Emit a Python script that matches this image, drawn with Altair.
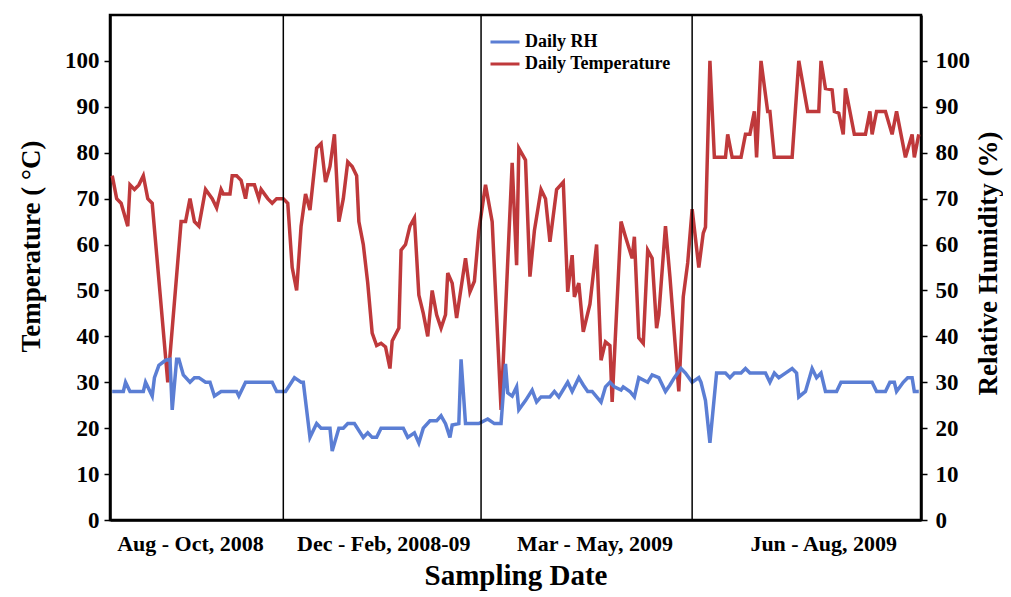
import altair as alt
import pandas as pd

# ---- data ----
temp_day = [1, 3, 5, 8, 9, 11, 13, 15, 17, 19, 26, 32, 34, 36, 38, 40, 43, 46, 48, 50,
            51, 54, 55, 57, 59, 61, 62, 65, 67, 68, 71, 73, 75, 78, 80, 82, 84, 86, 88, 90,
            91, 93, 95, 97, 99, 101, 103, 105, 107, 109, 111, 112, 114, 116, 118, 120, 122, 124, 126, 127,
            130, 131, 133, 135, 137, 139, 141, 143, 145, 147, 149, 151, 152, 154, 156, 160, 162, 164, 166, 169,
            172, 176, 181, 183, 184, 187, 189, 191, 194, 196, 198, 201, 204, 206, 208, 209, 211, 213, 216, 219,
            221, 223, 225, 226, 230, 232, 235, 236, 238, 240, 242, 244, 246, 247, 250, 252, 256, 258, 260, 262,
            265, 267, 268, 270, 272, 277, 278, 280, 284, 286, 288, 290, 291, 293, 296, 297, 299, 307, 310, 314,
            319, 320, 322, 325, 326, 328, 330, 331, 335, 340, 342, 343, 345, 349, 352, 354, 358, 361, 362, 364]
temp_val = [75, 70, 69, 64, 73, 72, 73, 75, 70, 69, 30, 65, 65, 70, 65, 64, 72, 70, 68, 72,
            71, 71, 75, 75, 74, 70, 73, 73, 70, 72, 70, 69, 70, 70, 69, 55, 50, 64, 71, 67.5,
            72, 81, 82, 73.6, 77, 84, 65, 70, 78, 77, 75, 65, 60, 51.6, 40.7, 38, 38.5, 37.7, 33, 39,
            41.8, 58.8, 60, 64, 65.8, 49, 45, 40, 50, 44.7, 41.8, 44.7, 53.8, 51.6, 44, 57, 49.7, 52, 63, 73,
            65, 24, 77.8, 55.5, 81, 78.4, 53, 63, 72, 70, 60.6, 72, 73.6, 49.7, 57.7, 48.6, 51.6, 41, 47, 60,
            34.8, 38.8, 38, 25.7, 65, 61.7, 57, 61.7, 39.7, 38.5, 58.8, 57, 41.8, 44.7, 64, 53, 28, 48.6, 56, 67.7,
            55, 62.5, 63.8, 100, 79, 79, 84, 79, 79, 84, 84, 89, 79, 100, 89, 89, 79, 79, 100, 89,
            89, 100, 94, 93.7, 89, 88.6, 84, 94, 84, 84, 89, 84, 89, 89, 84, 89, 79, 84, 79, 84]

rh_day = [1, 6, 7, 9, 15, 16, 19, 20, 22, 25, 27, 28, 30, 31, 33, 36, 38, 40, 43, 45,
          47, 50, 57, 58, 61, 73, 75, 79, 83, 86, 87, 90, 93, 95, 99, 100, 103, 105, 107, 110,
          114, 116, 118, 120, 122, 132, 134, 137, 139, 141, 144, 147, 149, 151, 153, 154, 157, 158, 160, 166,
          170, 173, 176, 178, 179, 181, 183, 184, 187, 190, 192, 194, 198, 200, 202, 206, 208, 211, 213, 215,
          217, 221, 223, 225, 227, 230, 231, 234, 236, 238, 242, 244, 247, 250, 252, 254, 257, 259, 262, 265,
          266, 268, 270, 273, 277, 279, 281, 284, 286, 288, 295, 297, 299, 301, 304, 307, 309, 310, 313, 316,
          318, 320, 322, 327, 329, 343, 345, 349, 351, 353, 354, 357, 359, 361, 362, 364]
rh_val = [28, 28, 30, 28, 28, 30, 27, 31, 33.7, 34.8, 35, 24, 35, 35, 31.6, 30, 31, 31, 30, 30,
          27, 28, 28, 27, 30, 30, 28, 28, 31, 30, 30, 18, 21, 20, 20, 15, 20, 20, 21, 21,
          18, 19, 18, 18, 20, 20, 18, 19, 16.8, 20, 21.6, 21.6, 22.7, 21, 18, 20.7, 21, 35, 21, 21,
          22, 21, 21, 34, 27.7, 27, 29, 24, 26, 28.3, 25.7, 26.8, 26.8, 28, 26.8, 30, 28, 31, 29.4, 28,
          28, 25.7, 29, 30, 29, 28.3, 29, 28, 26.8, 31, 30, 31.6, 31, 28, 29.4, 31, 33, 32, 30, 31,
          30, 26, 16.8, 32, 32, 31, 32, 32, 33, 32, 32, 30, 32, 31, 32, 33, 32, 26.8, 28, 33,
          31, 32, 28, 28, 30, 30, 28, 28, 30, 30, 28, 30, 31, 31, 28, 28]

season_pos = [36, 123, 218, 321]
season_lab = ["Aug - Oct, 2008", "Dec - Feb, 2008-09", "Mar - May, 2009", "Jun - Aug, 2009"]
boundaries = [78, 167, 262]
y_ticks = [0, 10, 20, 30, 40, 50, 60, 70, 80, 90, 100]

RED = "#BF393B"
BLUE = "#5B7ED4"
FONT = "Liberation Serif"

temp_df = pd.DataFrame({"day": temp_day, "value": temp_val, "series": "Daily Temperature"})
rh_df = pd.DataFrame({"day": rh_day, "value": rh_val, "series": "Daily RH"})
bound_df = pd.DataFrame({"day": boundaries})

# label expression from the season arrays
expr = "''"
for p, l in reversed(list(zip(season_pos, season_lab))):
    expr = f"datum.value == {p} ? '{l}' : ({expr})"

xscale = alt.Scale(domain=[0, 365], nice=False, zero=False)
color_scale = alt.Scale(domain=["Daily RH", "Daily Temperature"], range=[BLUE, RED])

x_axis = alt.Axis(values=season_pos, labelExpr=expr, ticks=False, tickSize=0, grid=False,
                  title="Sampling Date", labelFont=FONT, labelFontWeight="bold", labelFontSize=22,
                  labelPadding=13, titleFont=FONT, titleFontWeight="bold", titleFontSize=29,
                  titlePadding=7, domainColor="black", domainWidth=2.5, labelColor="black",
                  titleColor="black", labelFlush=False, labelOverlap=False)

common_y = dict(values=y_ticks, grid=False, labelFont=FONT, labelFontWeight="bold",
                labelFontSize=23, labelColor="black", titleFont=FONT, titleFontWeight="bold",
                titleFontSize=27, titleColor="black", domainColor="black", domainWidth=2.5,
                tickColor="black", tickWidth=1.5, tickSize=6)

temp = alt.Chart(temp_df).mark_line(strokeWidth=3.5).encode(
    x=alt.X("day:Q", scale=xscale, axis=x_axis),
    y=alt.Y("value:Q", scale=alt.Scale(domain=[0, 110], nice=False),
            axis=alt.Axis(orient="left", title="Temperature ( °C)", labelPadding=5,
                          titleX=-65, titleY=231, titleAngle=270, titleBaseline="bottom",
                          **common_y)),
    color=alt.Color("series:N", scale=color_scale,
                    legend=alt.Legend(orient="none", legendX=379, legendY=16, title=None,
                                      symbolType="stroke", symbolSize=841, symbolStrokeWidth=3,
                                      clipHeight=22, rowPadding=0,
                                      labelFont=FONT, labelFontWeight="bold", labelFontSize=18,
                                      labelColor="black", labelOffset=4)),
)

rh = alt.Chart(rh_df).mark_line(strokeWidth=3.5).encode(
    x=alt.X("day:Q", scale=xscale),
    y=alt.Y("value:Q", scale=alt.Scale(domain=[0, 110], nice=False),
            axis=alt.Axis(orient="right", title="Relative Humidity (%)", labelPadding=8,
                          titleX=54, titleY=248, titleAngle=270, titleBaseline="top",
                          **common_y)),
    color=alt.Color("series:N", scale=color_scale),
)

rules = alt.Chart(bound_df).mark_rule(color="black", strokeWidth=1.5).encode(
    x=alt.X("day:Q", scale=xscale)
)

chart = alt.layer(temp, rh, rules).resolve_scale(y="independent").properties(
    width=811, height=505,
    autosize=alt.AutoSizeParams(type="none"),
    padding={"left": 102, "top": 7, "right": 82, "bottom": 74},
    background="white",
).configure_view(stroke="black", strokeWidth=2.5)

chart.save("out.html", embed_options={"renderer": "svg", "actions": False})
